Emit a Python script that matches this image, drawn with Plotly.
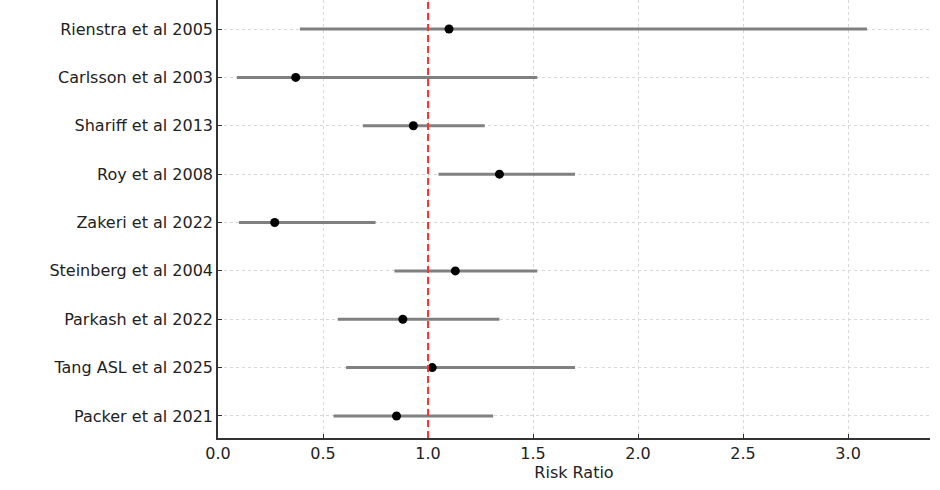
import plotly.graph_objects as go

studies = ["Packer et al 2021", "Tang ASL et al 2025", "Parkash et al 2022",
           "Steinberg et al 2004", "Zakeri et al 2022", "Roy et al 2008",
           "Shariff et al 2013", "Carlsson et al 2003", "Rienstra et al 2005"]
rr =    [0.85, 1.02, 0.88, 1.13, 0.27, 1.34, 0.93, 0.37, 1.10]
lower = [0.55, 0.61, 0.57, 0.84, 0.10, 1.05, 0.69, 0.09, 0.39]
upper = [1.31, 1.70, 1.34, 1.52, 0.75, 1.70, 1.27, 1.52, 3.09]
x_ticks = [0.0, 0.5, 1.0, 1.5, 2.0, 2.5, 3.0]
null_value = 1.0

ypos = list(range(len(studies)))

fig = go.Figure()
for i in ypos:
    fig.add_trace(go.Scatter(x=[lower[i], upper[i]], y=[i, i], mode="lines",
                             line=dict(color="#808080", width=3),
                             showlegend=False, hoverinfo="skip"))
fig.add_trace(go.Scatter(x=rr, y=ypos, mode="markers",
                         marker=dict(color="black", size=9),
                         showlegend=False))

fig.add_shape(type="line", x0=null_value, x1=null_value, xref="x",
              y0=0, y1=1, yref="paper",
              line=dict(color="#ff3030", width=2, dash="7px,4px"), layer="above")

font = "DejaVu Sans, sans-serif"
fig.update_layout(
    width=940, height=490,
    margin=dict(l=218, r=10, t=0, b=52),
    paper_bgcolor="white", plot_bgcolor="white",
    font=dict(family=font, size=16, color="#222222"),
    xaxis=dict(range=[0, 3.39], tickvals=x_ticks,
               ticktext=[f"{v:.1f}" for v in x_ticks],
               showline=True, linecolor="#333333", linewidth=1.5,
               ticks="inside", ticklen=4, tickcolor="#333333",
               showgrid=True, gridcolor="#d8d8d8", griddash="dot", gridwidth=1,
               zeroline=False,
               title=dict(text="Risk Ratio", font=dict(size=16), standoff=0)),
    yaxis=dict(range=[-0.455, 8.6], tickvals=ypos, ticktext=studies,
               showline=True, linecolor="#333333", linewidth=1.5,
               ticks="inside", ticklen=4, tickcolor="#333333",
               showgrid=True, gridcolor="#d8d8d8", griddash="dot", gridwidth=1,
               zeroline=False, ticklabelstandoff=0),
)

fig.write_html("out.html", config={"displayModeBar": False},
               post_script="document.body.style.margin='0';")
